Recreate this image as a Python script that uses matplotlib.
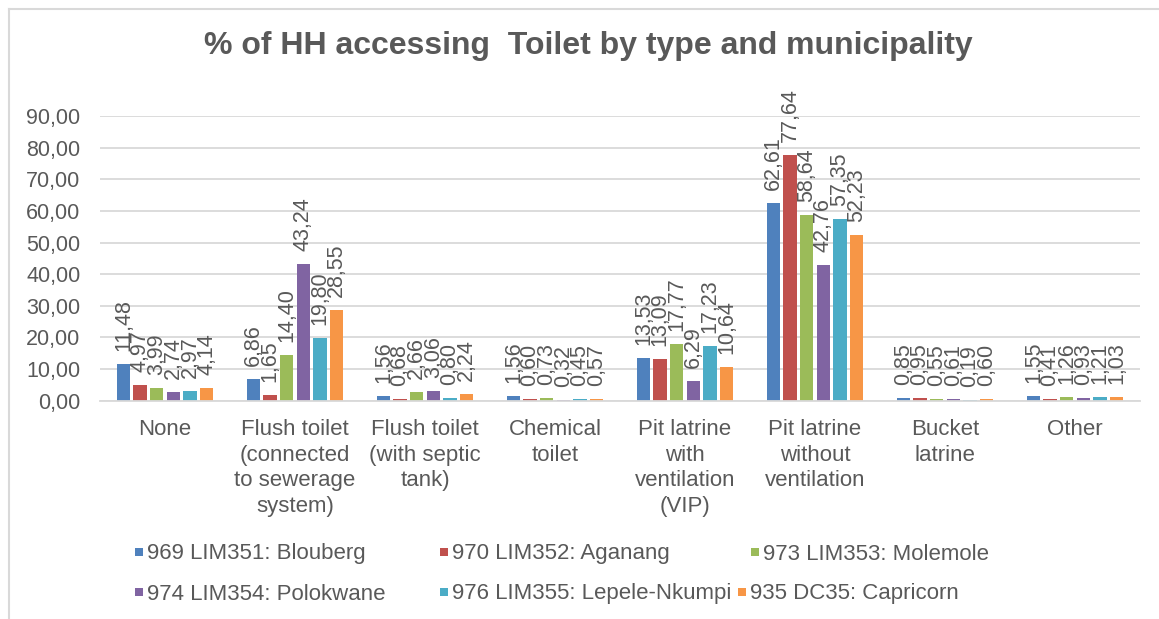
import numpy as np
import matplotlib.pyplot as plt
from matplotlib.lines import Line2D
from matplotlib.patches import Rectangle

plt.rcParams['font.family'] = ['Liberation Sans', 'DejaVu Sans']

categories = ['None',
              'Flush toilet\n(connected\nto sewerage\nsystem)',
              'Flush toilet\n(with septic\ntank)',
              'Chemical\ntoilet',
              'Pit latrine\nwith\nventilation\n(VIP)',
              'Pit latrine\nwithout\nventilation',
              'Bucket\nlatrine',
              'Other']

municipalities = ['969 LIM351: Blouberg', '970 LIM352: Aganang', '973 LIM353: Molemole',
                  '974 LIM354: Polokwane', '976 LIM355: Lepele-Nkumpi', '935 DC35: Capricorn']

blouberg = [11.48, 6.86, 1.56, 1.56, 13.53, 62.61, 0.85, 1.55]
aganang = [4.97, 1.65, 0.68, 0.60, 13.09, 77.64, 0.95, 0.41]
molemole = [3.99, 14.40, 2.66, 0.73, 17.77, 58.64, 0.55, 1.26]
polokwane = [2.74, 43.24, 3.06, 0.32, 6.29, 42.76, 0.61, 0.93]
lepele = [2.97, 19.80, 0.80, 0.45, 17.23, 57.35, 0.19, 1.21]
capricorn = [4.14, 28.55, 2.24, 0.57, 10.64, 52.23, 0.60, 1.03]

series = [blouberg, aganang, molemole, polokwane, lepele, capricorn]
colors = ['#4F81BD', '#C0504D', '#9BBB59', '#8064A2', '#4BACC6', '#F79646']
text_col = '#595959'
grid_col = '#D9D9D9'

W, H = 1159, 619
fig = plt.figure(figsize=(W / 100, H / 100), dpi=100)
ax = fig.add_axes([100 / W, 1 - 400.7 / H, 1040 / W, 284.7 / H])

x = np.arange(len(categories))
slot = 0.128
width = 0.104
for i, (vals, col) in enumerate(zip(series, colors)):
    pos = x + (i - 2.5) * slot
    ax.bar(pos, vals, width=width, color=col, zorder=2)
    for px, v in zip(pos, vals):
        ax.annotate(f'{v:.2f}'.replace('.', ','), (px, v), xytext=(0, 13),
                    textcoords='offset pixels', rotation=90, ha='center', va='bottom',
                    fontsize=15.5, color=text_col, annotation_clip=False, zorder=3)

ax.set_xlim(-0.5, len(categories) - 0.5)
ax.set_ylim(0, 90)
ax.set_yticks(np.arange(0, 91, 10))
ax.set_yticklabels([f'{t:.2f}'.replace('.', ',') for t in np.arange(0, 91, 10)])
ax.set_xticks(x)
ax.set_xticklabels(categories, linespacing=1.3)
ax.tick_params(axis='y', length=0, pad=14, labelsize=15.5, labelcolor=text_col)
ax.tick_params(axis='x', length=0, pad=13, labelsize=16, labelcolor=text_col)
ax.grid(axis='y', color=grid_col, linewidth=1.3, zorder=0)
for s in ['top', 'right', 'left']:
    ax.spines[s].set_visible(False)
ax.spines['bottom'].set_color(grid_col)
ax.spines['bottom'].set_linewidth(1.3)

fig.text(588 / W, 1 - 46 / H, '% of HH accessing  Toilet by type and municipality',
         ha='center', va='center', fontsize=23, fontweight='bold', color=text_col)

# legend laid out like the Excel one (flowing rows)
legend_pos = [(135, 554), (440, 554), (751, 554), (135, 594), (440, 594), (738, 594)]
for (lx, ly), name, col in zip(legend_pos, municipalities, colors):
    fig.add_artist(Rectangle((lx / W, 1 - (ly + 2) / H), 8 / W, 8 / H,
                             facecolor=col, edgecolor='none'))
    fig.text((lx + 12) / W, 1 - ly / H, name, ha='left', va='center',
             fontsize=16, color=text_col)

# chart frame (left and top edges only visible)
fig.add_artist(Line2D([9 / W, 9 / W], [0, 1 - 8.5 / H], color=grid_col, linewidth=1.5))
fig.add_artist(Line2D([9 / W, 1], [1 - 8.5 / H, 1 - 8.5 / H], color=grid_col, linewidth=1.5))

fig.savefig('out.png', dpi=100)
